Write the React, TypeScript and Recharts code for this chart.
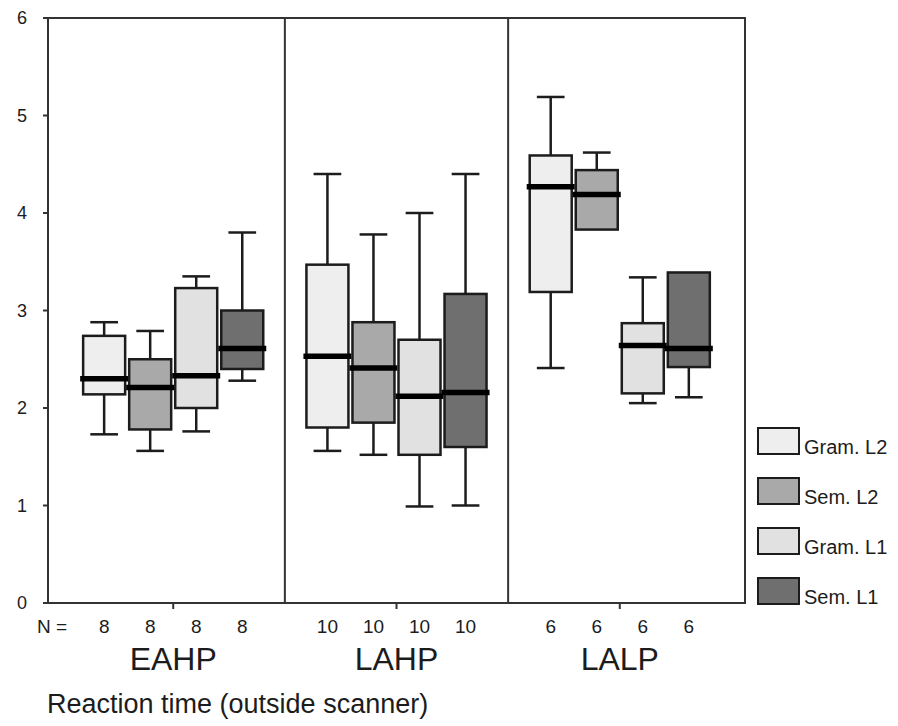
import React from 'react';
import { ComposedChart, Bar, XAxis, YAxis, ReferenceArea, ReferenceLine, Legend } from 'recharts';

// ---------- data ----------
const groups = ['EAHP', 'LAHP', 'LALP'];
const groupN = [8, 10, 6];
const seriesNames = ['Gram. L2', 'Sem. L2', 'Gram. L1', 'Sem. L1'];
const seriesFills = ['#eeeeee', '#a9a9a9', '#e1e1e1', '#6f6f6f'];

// five-number summaries per group: [min, q1, median, q3, max]
const gramL2 = [
  [1.73, 2.14, 2.30, 2.74, 2.88],
  [1.56, 1.80, 2.53, 3.47, 4.40],
  [2.41, 3.19, 4.27, 4.59, 5.19],
];
const semL2 = [
  [1.56, 1.78, 2.21, 2.50, 2.79],
  [1.52, 1.85, 2.41, 2.88, 3.78],
  [3.83, 3.83, 4.19, 4.44, 4.62],
];
const gramL1 = [
  [1.76, 2.00, 2.33, 3.23, 3.35],
  [0.99, 1.52, 2.12, 2.70, 4.00],
  [2.05, 2.15, 2.64, 2.87, 3.34],
];
const semL1 = [
  [2.28, 2.40, 2.61, 3.00, 3.80],
  [1.00, 1.60, 2.16, 3.17, 4.40],
  [2.11, 2.42, 2.61, 3.39, 3.39],
];
const seriesStats = [gramL2, semL2, gramL1, semL1];
const yTicks = [0, 1, 2, 3, 4, 5, 6];

// ---------- layout ----------
const GROUP_STEP = 4.85;
const SLOT_OFFSETS = [-1.5, -0.5, 0.5, 1.5];
const X_DOMAIN: [number, number] = [-2.72, 12.42];
const FONT = '"Liberation Sans", Arial, Helvetica, sans-serif';
const INK = '#1c1c1c';
const FRAME = '#333333';

const groupCenters = groups.map((_, gi) => gi * GROUP_STEP);
const dividers = groupCenters.slice(0, -1).map((c, i) => (c + groupCenters[i + 1]) / 2);

const rows = groups.flatMap((g, gi) =>
  seriesStats.map((stats, si) => {
    const [lo, q1, med, q3, hi] = stats[gi];
    return { pos: groupCenters[gi] + SLOT_OFFSETS[si], group: g, series: si, n: groupN[gi], lo, q1, med, q3, hi };
  })
);
const boxPositions = rows.map((r) => r.pos);
const nTicks = [...boxPositions, ...groupCenters].sort((a, b) => a - b);

// ---------- pieces ----------
const BoxShape = (props: any) => {
  const { x, y, width, height, payload } = props;
  if (!payload) return null;
  const { lo, q1, med, q3, hi, series } = payload;
  const top = Math.min(y, y + height);
  const h = Math.abs(height);
  const k = h / (hi - lo);
  const py = (v: number) => top + (hi - v) * k;
  const cx = x + width / 2;
  const cap = width * 0.33;
  const sw = 2.5;
  return (
    <g>
      {hi > q3 && (
        <>
          <line x1={cx} x2={cx} y1={py(hi)} y2={py(q3)} stroke={INK} strokeWidth={sw} />
          <line x1={cx - cap} x2={cx + cap} y1={py(hi)} y2={py(hi)} stroke={INK} strokeWidth={sw} />
        </>
      )}
      {lo < q1 && (
        <>
          <line x1={cx} x2={cx} y1={py(q1)} y2={py(lo)} stroke={INK} strokeWidth={sw} />
          <line x1={cx - cap} x2={cx + cap} y1={py(lo)} y2={py(lo)} stroke={INK} strokeWidth={sw} />
        </>
      )}
      <rect x={x} y={py(q3)} width={width} height={py(q1) - py(q3)} fill={seriesFills[series]} stroke={INK} strokeWidth={sw} />
      <line x1={x - 3} x2={x + width + 3} y1={py(med)} y2={py(med)} stroke="#000" strokeWidth={5.5} />
    </g>
  );
};

const NTick = (props: any) => {
  const { x, y, payload } = props;
  const v = payload.value;
  const isGroup = groupCenters.some((c) => Math.abs(c - v) < 1e-6);
  if (isGroup) {
    return <line x1={x} x2={x} y1={y} y2={y + 6} stroke={FRAME} strokeWidth={2} />;
  }
  const row = rows.find((r) => Math.abs(r.pos - v) < 1e-6);
  return (
    <text x={x} y={y + 30} textAnchor="middle" fontSize={19} fontFamily={FONT} fill={INK}>
      {row ? row.n : ''}
    </text>
  );
};

const GTick = (props: any) => {
  const { x, y, payload } = props;
  const gi = groupCenters.findIndex((c) => Math.abs(c - payload.value) < 1e-6);
  return (
    <text x={x} y={y + 17} textAnchor="middle" fontSize={32} fontFamily={FONT} fill={INK}>
      {gi >= 0 ? groups[gi] : ''}
    </text>
  );
};

const NLabel = (props: any) => {
  const vb = props.viewBox || {};
  return (
    <text x={vb.x - 11} y={vb.y + 30} textAnchor="start" fontSize={19} fontFamily={FONT} fill={INK}>
      N =
    </text>
  );
};

const TitleLabel = (props: any) => {
  const vb = props.viewBox || {};
  return (
    <text x={vb.x - 1} y={vb.y + 60} textAnchor="start" fontSize={27} fontFamily={FONT} fill={INK}>
      Reaction time (outside scanner)
    </text>
  );
};

const LegendContent = () => (
  <svg width={140} height={180} style={{ display: 'block', overflow: 'visible' }}>
    {seriesNames.map((name, i) => (
      <g key={name}>
        <rect x={1} y={1 + i * 50} width={41} height={26} fill={seriesFills[i]} stroke={INK} strokeWidth={2} />
        <text x={47} y={27 + i * 50} fontSize={20} fontFamily={FONT} fill={INK}>
          {name}
        </text>
      </g>
    ))}
  </svg>
);

export default function App() {
  return (
    <div style={{ position: 'fixed', left: 0, top: 0, background: '#fff' }}>
      <ComposedChart width={898} height={726} data={rows} margin={{ top: 18, right: 153, left: 0, bottom: 0 }}>
        <XAxis
          xAxisId="b"
          dataKey="pos"
          type="number"
          domain={X_DOMAIN}
          allowDataOverflow
          ticks={groupCenters}
          interval={0}
          tick={GTick}
          tickSize={0}
          tickMargin={0}
          tickLine={false}
          axisLine={false}
          height={73}
          label={TitleLabel}
        />
        <XAxis
          xAxisId="a"
          dataKey="pos"
          type="number"
          domain={X_DOMAIN}
          allowDataOverflow
          ticks={nTicks}
          interval={0}
          tick={NTick}
          tickSize={0}
          tickMargin={0}
          tickLine={false}
          axisLine={false}
          height={50}
          label={NLabel}
        />
        <YAxis
          type="number"
          domain={[0, 6]}
          ticks={yTicks}
          interval={0}
          width={48}
          tickSize={5}
          tickMargin={16}
          axisLine={false}
          tickLine={{ stroke: FRAME, strokeWidth: 2 }}
          tick={{ fontSize: 18, fill: INK, fontFamily: FONT }}
        />
        <ReferenceArea xAxisId="a" x1={X_DOMAIN[0]} x2={X_DOMAIN[1]} y1={0} y2={6} fill="none" stroke={FRAME} strokeWidth={2} ifOverflow="visible" />
        {dividers.map((d) => (
          <ReferenceLine key={d} xAxisId="a" x={d} stroke={FRAME} strokeWidth={2} />
        ))}
        <Bar xAxisId="a" dataKey={(d: any) => [d.lo, d.hi]} barSize={42} shape={BoxShape} isAnimationActive={false} />
        <Legend
          layout="horizontal"
          align="center"
          verticalAlign="middle"
          content={LegendContent}
          wrapperStyle={{ left: 757, top: 427, width: 140, height: 180 }}
        />
      </ComposedChart>
    </div>
  );
}
